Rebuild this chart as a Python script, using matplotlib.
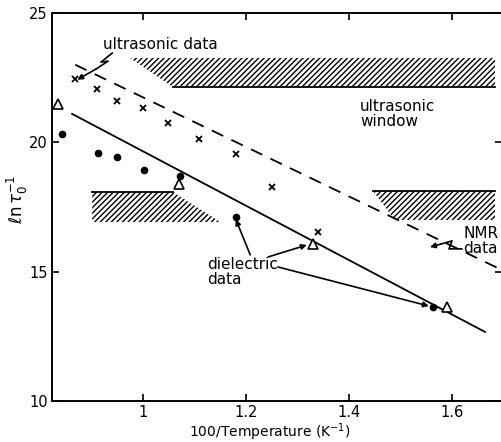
import matplotlib
matplotlib.use("Agg")
import matplotlib.pyplot as plt
import numpy as np

plt.rcParams['font.family'] = ['DejaVu Sans']

# ultrasonic data (crosses)
us_x = [0.868, 0.911, 0.950, 1.000, 1.049, 1.109, 1.181, 1.250, 1.340]
us_y = [22.45, 22.06, 21.60, 21.33, 20.75, 20.13, 19.55, 18.27, 16.53]
# dielectric data (filled dots)
diel_x = [0.843, 0.913, 0.950, 1.002, 1.072, 1.180, 1.563]
diel_y = [20.32, 19.59, 19.43, 18.93, 18.70, 17.10, 13.64]
# open triangles
tri_x = [0.835, 1.070, 1.330, 1.590]
tri_y = [21.48, 18.40, 16.07, 13.64]
# fitted lines
solid_x = [0.862, 1.664]
solid_y = [21.10, 12.67]
nmr_x = [0.868, 1.693]
nmr_y = [23.00, 15.10]
# hatched regions (ultrasonic window boundaries)
band_top_x = [0.975, 1.683, 1.683, 1.058]
band_top_y = [23.26, 23.26, 22.12, 22.12]
band_left_x = [0.901, 1.058, 1.150, 0.901]
band_left_y = [18.08, 18.08, 16.92, 16.92]
band_right_x = [1.447, 1.683, 1.683, 1.490]
band_right_y = [18.12, 18.12, 17.00, 17.00]

xticks = [1.0, 1.2, 1.4, 1.6]
xticklabels = ['1', '1.2', '1.4', '1.6']
yticks = [10, 15, 20, 25]

fig = plt.figure(figsize=(5.02, 4.42), dpi=100)
ax = fig.add_axes([0.1036, 0.0928, 0.8964, 0.8778])
ax.set_xlim(0.823, 1.697)
ax.set_ylim(10, 25)

plt.rcParams['hatch.linewidth'] = 1.0
for bx, by in [(band_top_x, band_top_y), (band_left_x, band_left_y), (band_right_x, band_right_y)]:
    ax.fill(bx, by, facecolor='none', edgecolor='black', hatch='//////', linewidth=0)
# solid edges of the window
ax.plot([band_top_x[3], band_top_x[2]], [band_top_y[3], band_top_y[2]], color='black', lw=1.3)
ax.plot([band_left_x[0], band_left_x[1]], [band_left_y[0], band_left_y[1]], color='black', lw=1.3)
ax.plot([band_right_x[0], band_right_x[1]], [band_right_y[0], band_right_y[1]], color='black', lw=1.3)

ax.plot(solid_x, solid_y, color='black', lw=1.3, zorder=3)
ax.plot(nmr_x, nmr_y, color='black', lw=1.3, dashes=(7, 5), zorder=3)

ax.plot(us_x, us_y, 'x', color='black', ms=4.5, mew=1.3, zorder=4)
ax.plot(diel_x, diel_y, 'o', color='black', ms=4.5, zorder=4)
ax.plot(tri_x, tri_y, '^', mfc='white', mec='black', ms=6.5, mew=1.2, zorder=5)

fs = 11
ax.text(1.033, 23.8, 'ultrasonic data', ha='center', va='center', fontsize=fs)
ax.text(1.421, 21.1, 'ultrasonic\nwindow', ha='left', va='center', fontsize=fs, linespacing=1.0)
ax.text(1.622, 16.19, 'NMR\ndata', ha='left', va='center', fontsize=fs, linespacing=1.0)
ax.text(1.124, 15.55, 'dielectric\ndata', ha='left', va='top', fontsize=fs, linespacing=1.0)

ap = dict(arrowstyle='-|>', color='black', lw=1.2, mutation_scale=8, shrinkA=0, shrinkB=0)
ax.annotate('', xy=(1.180, 17.02), xytext=(1.208, 15.65), arrowprops=ap)
ax.annotate('', xy=(1.318, 16.03), xytext=(1.243, 15.57), arrowprops=ap)
ax.annotate('', xy=(1.555, 13.67), xytext=(1.262, 15.18), arrowprops=ap)

# zigzag arrows
ax.plot([0.940, 0.918, 0.932, 0.909], [23.45, 23.10, 23.14, 22.84], color='black', lw=1.2)
ax.annotate('', xy=(0.872, 22.42), xytext=(0.909, 22.84), arrowprops=ap)
ax.plot([1.619, 1.594, 1.600, 1.579], [15.88, 15.88, 16.19, 16.07], color='black', lw=1.2)
ax.annotate('', xy=(1.557, 15.95), xytext=(1.579, 16.07), arrowprops=ap)

ax.set_xticks(xticks)
ax.set_xticklabels(xticklabels)
ax.set_yticks(yticks)
ax.tick_params(direction='in', length=5, width=1.2, labelsize=10.5,
               top=True, right=True, pad=3)
ax.spines['right'].set_visible(False)
for s in ['left', 'bottom', 'top']:
    ax.spines[s].set_linewidth(1.4)

ax.set_xlabel('100/Temperature (K$^{-1}$)', fontsize=10)
ax.xaxis.set_label_coords(0.484, -0.052)
ax.set_ylabel(r'$\ell$n$\,\tau_0^{-1}$', fontsize=fs + 1)
ax.yaxis.set_label_coords(-0.05, 0.52)

fig.savefig('out.png', dpi=100)
